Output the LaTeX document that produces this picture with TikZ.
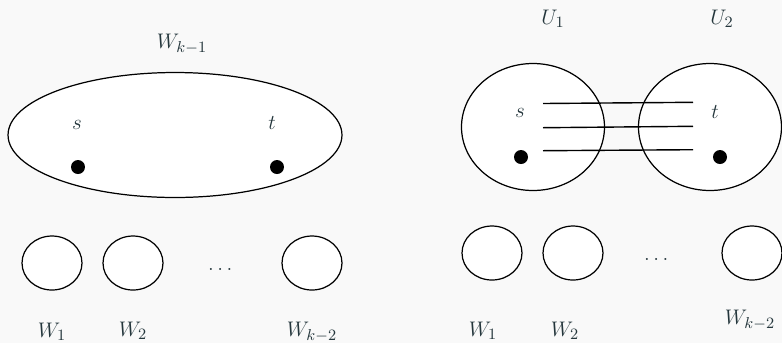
\documentclass[tikz,border=0pt]{standalone}
\usepackage{amsmath}
\usepackage{xcolor}
\usetikzlibrary{shapes.geometric}
\definecolor{fondo}{RGB}{249,249,249}
\definecolor{tinta}{RGB}{36,54,60}
\begin{document}
\begin{tikzpicture}[x=0.02cm, y=-0.02cm,
	conjunto/.style={ellipse, draw, fill=white, line width=0.7pt, inner sep=0pt},
	pequeno/.style={conjunto, minimum width=1.2cm, minimum height=1.08cm},
	punto/.style={circle, fill=black, minimum size=0.28cm, inner sep=0pt},
	etiqueta/.style={text=tinta, font=\fontsize{12.5}{15}\selectfont, inner sep=0pt}
	]

	%Fondo y margenes
	\fill[fondo] (0,0) rectangle (782,343);
	\useasboundingbox (0,0) rectangle (782,343);

	%Lado izquierdo: W_{k-1} con s y t
		\node[conjunto, minimum width=6.68cm, minimum height=2.5cm] (Wk1) at (175,135) {};
		\node[etiqueta] (Lk1) at (182,44) {$W_{k-1}$};
		\node[etiqueta] (s1) at (77,125) {$s$};
		\node[etiqueta] (t1) at (272,123) {$t$};
		\node[punto] (ps1) at (78,167) {};
		\node[punto] (pt1) at (277,167) {};

	%Lado izquierdo: W_1, W_2, ..., W_{k-2}
		\node[pequeno] (A1) at (52,263) {};
		\node[pequeno] (A2) at (133,263) {};
		\node[pequeno] (A3) at (312,263) {};
		\node[etiqueta] (puntosA) at (222,269) {$\dots$};
		\node[etiqueta] (LA1) at (52,332) {$W_1$};
		\node[etiqueta] (LA2) at (133,331) {$W_2$};
		\node[etiqueta] (LA3) at (312,332) {$W_{k-2}$};

	%Lado derecho: U_1 y U_2
		\node[conjunto, minimum width=2.86cm, minimum height=2.54cm] (U1) at (533,127) {};
		\node[conjunto, minimum width=2.86cm, minimum height=2.54cm] (U2) at (710,127) {};
		\node[etiqueta] (LU1) at (553,19) {$U_1$};
		\node[etiqueta] (LU2) at (722,19) {$U_2$};
		\node[etiqueta] (s2) at (520,113) {$s$};
		\node[etiqueta] (t2) at (715,112) {$t$};
		\node[punto] (ps2) at (521,157) {};
		\node[punto] (pt2) at (720,157) {};

	%Aristas entre U_1 y U_2
		\coordinate (a1) at (543,103.5);
		\coordinate (b1) at (693,102.3);
		\coordinate (a2) at (543,127.7);
		\coordinate (b2) at (693,126.3);
		\coordinate (a3) at (543,150.7);
		\coordinate (b3) at (693,149.7);
		\draw[line width=0.8pt] (a1) -- (b1);
		\draw[line width=0.8pt] (a2) -- (b2);
		\draw[line width=0.8pt] (a3) -- (b3);

	%Lado derecho: W_1, W_2, ..., W_{k-2}
		\node[pequeno] (B1) at (492,253) {};
		\node[pequeno] (B2) at (573,253) {};
		\node[pequeno] (B3) at (752,253) {};
		\node[etiqueta] (puntosB) at (658,259) {$\dots$};
		\node[etiqueta] (LB1) at (483,331) {$W_1$};
		\node[etiqueta] (LB2) at (565,331) {$W_2$};
		\node[etiqueta] (LB3) at (750,320) {$W_{k-2}$};
	\end{tikzpicture}
\end{document}
